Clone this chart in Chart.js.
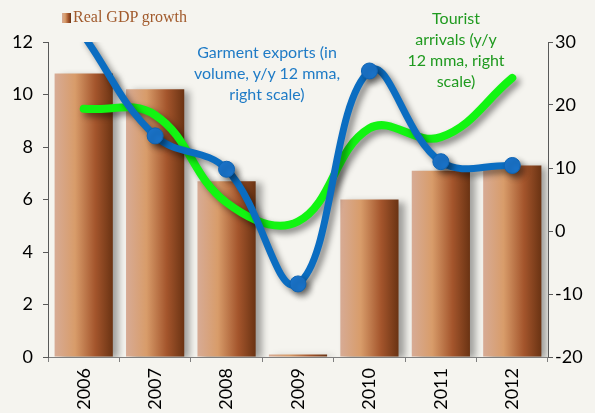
<!DOCTYPE html>
<html>
<head>
<meta charset="utf-8">
<script src="https://cdn.jsdelivr.net/npm/chart.js@4.4.1/dist/chart.umd.min.js"></script>
<style>
  html, body { margin: 0; padding: 0; background: #f5f4ef; }
  #wrap { position: relative; width: 595px; height: 413px; background: #f5f4ef; overflow: hidden; }
  canvas { position: absolute; left: 0; top: 0; }
  .note { position: absolute; font-family: Lato, "Open Sans", sans-serif; font-size: 16px; line-height: 21px; text-align: center; white-space: nowrap; }
  #blue { color: #1f7bc6; left: 167px; top: 41px; width: 200px; }
  #green { color: #1f9a1f; left: 376px; top: 7px; width: 160px; }
  #legend { position: absolute; left: 62px; top: 6px; font-family: "Liberation Serif", "DejaVu Serif", serif; font-size: 16px; color: #a15a2c; white-space: nowrap; line-height: 22px; }
  #legend .sw { display: inline-block; width: 9px; height: 10px; margin-right: 2px; vertical-align: -1px;
    background: linear-gradient(to right, #d7ab95, #d89c6a 35%, #a4552c 70%, #6a3313); }
</style>
</head>
<body>
<div id="wrap">
  <canvas id="c" width="595" height="413"></canvas>
  <div id="legend"><span class="sw"></span>Real GDP growth</div>
  <div class="note" id="blue">Garment exports (in<br>volume, y/y 12 mma,<br>right scale)</div>
  <div class="note" id="green">Tourist<br>arrivals (y/y<br>12 mma, right<br>scale)</div>
</div>
<script>
const years = ["2006", "2007", "2008", "2009", "2010", "2011", "2012"];
const gdpGrowth = [10.8, 10.2, 6.7, 0.1, 6.0, 7.1, 7.3];
const garmentExports = [31, 15.1, 9.8, -8.4, 25.4, 11.0, 10.4];
const touristArrivals = [19.4, 18.4, 4.5, 1.5, 16.3, 14.9, 24.3];
const leftTicks = [0, 2, 4, 6, 8, 10, 12];
const rightTicks = [-20, -10, 0, 10, 20, 30];

const BAR_PCT = 0.815;

function barGradient(c) {
  const chart = c.chart;
  const xs = chart.scales && chart.scales.x;
  if (!xs || c.type !== 'data') return '#a4552c';
  const cx = xs.getPixelForValue(c.dataIndex);
  const w = ((xs.right - xs.left) / years.length) * BAR_PCT;
  if (!isFinite(cx) || !isFinite(w) || w <= 0) return '#a4552c';
  const g = chart.ctx.createLinearGradient(cx - w / 2, 0, cx + w / 2, 0);
  g.addColorStop(0, '#d7ab95');
  g.addColorStop(0.35, '#d89c6a');
  g.addColorStop(0.7, '#a4552c');
  g.addColorStop(1, '#6a3313');
  return g;
}

const shadowPlugin = {
  id: 'shadow',
  beforeDatasetDraw(chart, args) {
    const ctx = chart.ctx;
    ctx.save();
    const isBar = args.meta.type === 'bar';
    ctx.shadowColor = isBar ? 'rgba(0,0,0,0.35)' : 'rgba(0,0,0,0.45)';
    ctx.shadowBlur = isBar ? 7 : 6;
    ctx.shadowOffsetX = isBar ? 6 : 4;
    ctx.shadowOffsetY = isBar ? 2 : 4;
  },
  afterDatasetDraw(chart) {
    chart.ctx.restore();
  }
};

const tickFont = { family: 'Lato, "Open Sans", sans-serif', size: 18 };

const chart = new Chart(document.getElementById('c'), {
  data: {
    labels: years,
    datasets: [
      {
        type: 'line',
        label: 'Garment exports',
        data: garmentExports,
        yAxisID: 'y1',
        borderColor: '#0b6dc1',
        borderWidth: 7,
        tension: 0.4,
        pointRadius: [0, 8, 8, 8, 8, 8, 8],
        pointBackgroundColor: '#1a73c9',
        pointBorderColor: '#0e64b4',
        pointBorderWidth: 1,
        order: 1
      },
      {
        type: 'line',
        label: 'Tourist arrivals',
        data: touristArrivals,
        yAxisID: 'y1',
        borderColor: '#12f512',
        borderWidth: 8,
        borderCapStyle: 'round',
        tension: 0.4,
        pointRadius: 0,
        order: 2
      },
      {
        type: 'bar',
        label: 'Real GDP growth',
        data: gdpGrowth,
        yAxisID: 'y',
        backgroundColor: barGradient,
        borderWidth: 0,
        categoryPercentage: 1,
        barPercentage: BAR_PCT,
        order: 3
      }
    ]
  },
  options: {
    responsive: false,
    animation: false,
    layout: { padding: { top: 42, left: 0, right: 0, bottom: 0 } },
    plugins: { legend: { display: false }, tooltip: { enabled: false } },
    scales: {
      x: {
        type: 'category',
        offset: true,
        grid: { display: true, offset: true, drawOnChartArea: false, tickLength: 5, color: '#7f7f7f' },
        border: { display: true, color: '#7f7f7f', width: 1 },
        ticks: { color: '#000', font: tickFont, maxRotation: 90, minRotation: 90, padding: 6 },
        afterFit(s) { s.height = 56; }
      },
      y: {
        position: 'left',
        min: 0, max: 12,
        afterBuildTicks(s) { s.ticks = leftTicks.map(v => ({ value: v })); },
        grid: { drawOnChartArea: false, tickLength: 5, color: '#595959' },
        border: { display: true, color: '#595959', width: 1 },
        ticks: { color: '#000', font: tickFont, padding: 10 },
        afterFit(s) { s.width = 48; }
      },
      y1: {
        position: 'right',
        min: -20, max: 30,
        afterBuildTicks(s) { s.ticks = rightTicks.map(v => ({ value: v })); },
        grid: { drawOnChartArea: false, tickLength: 5, color: '#595959' },
        border: { display: true, color: '#595959', width: 1 },
        ticks: { color: '#000', font: tickFont, padding: 2 },
        afterFit(s) { s.width = 47; }
      }
    }
  },
  plugins: [shadowPlugin]
});
chart.update();
</script>
</body>
</html>
